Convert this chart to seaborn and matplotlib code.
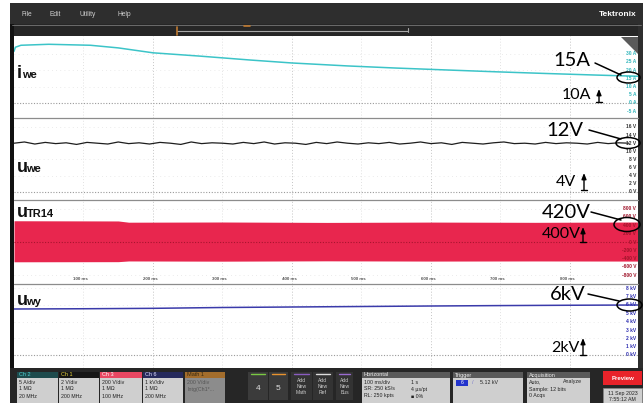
import matplotlib
matplotlib.use("Agg")
import matplotlib.pyplot as plt
import matplotlib.transforms as mtrans
import seaborn as sns
from matplotlib.patches import Rectangle, Ellipse, Polygon

# ---- waveform values ----
iwe_ms = [0, 2, 10, 50, 110, 150, 200, 267, 340, 400, 480, 550, 625, 695, 765, 840, 898]
iwe_A = [31.5, 34.0, 35.2, 35.8, 35.2, 33.6, 30.6, 28.6, 26.2, 24.4, 22.6, 21.3, 20.1, 19.0, 18.0, 17.0, 16.3]

uwe_ms = [0, 15, 30, 45, 60, 75, 90, 105, 120, 135,
          150, 165, 180, 195, 210, 225, 240, 255, 270, 285,
          300, 315, 330, 345, 360, 375, 390, 405, 420, 435,
          450, 465, 480, 495, 510, 525, 540, 555, 570, 585,
          600, 615, 630, 645, 660, 675, 690, 705, 720, 735,
          750, 765, 780, 795, 810, 825, 840, 855, 870, 885]
uwe_V = [12.0, 12.3, 11.8, 12.2, 11.9, 12.1, 11.7, 12.2, 12.0, 11.8,
         12.3, 11.9, 12.1, 11.8, 12.2, 12.0, 11.7, 12.3, 11.9, 12.1,
         12.0, 11.8, 12.2, 11.9, 12.3, 11.8, 12.1, 12.0, 11.7, 12.2,
         11.9, 12.3, 12.0, 11.8, 12.1, 11.9, 12.2, 11.8, 12.0, 12.3,
         11.9, 12.1, 11.7, 12.2, 12.0, 11.8, 12.1, 12.3, 11.9, 12.0,
         11.8, 12.2, 11.9, 12.1, 12.0, 11.8, 12.2, 11.9, 12.1, 12.0]

band_ms = [0, 150, 165, 300, 450, 600, 750, 898]
band_hi = [510, 505, 475, 480, 470, 478, 472, 480]
band_lo = [-475, -472, -455, -460, -452, -458, -455, -458]

uwy_ms = [0, 100, 200, 300, 400, 500, 600, 700, 800, 898]
uwy_kV = [5.52, 5.55, 5.60, 5.70, 5.76, 5.82, 5.88, 5.93, 5.97, 6.0]

time_labels = [100, 200, 300, 400, 500, 600, 700, 800]
iwe_scale = [30, 25, 20, 15, 10, 5, 0, -5]
uwe_scale = [16, 14, 12, 10, 8, 6, 4, 2, 0]
utr_scale = [800, 600, 400, 200, 0, -200, -400, -600, -800]
uwy_scale = [8, 7, 6, 5, 4, 3, 2, 1, 0]

W, H = 643, 403

sns.set_style("white")
plt.rcParams["font.family"] = ["Liberation Sans", "DejaVu Sans"]

fig = plt.figure(figsize=(W / 100, H / 100), dpi=100)


def panel(y0, y1, ylo, yhi):
    ax = fig.add_axes([14 / W, 1 - y1 / H, (638 - 14) / W, (y1 - y0) / H])
    ax.set_xlim(0, 898)
    ax.set_ylim(ylo, yhi)
    ax.set_xticks([])
    ax.set_yticks([])
    for s in ax.spines.values():
        s.set_visible(False)
    for t in range(100, 900, 100):
        c = "#c4c4c4" if t % 200 == 0 else "#e2e2e2"
        ax.axvline(t, color=c, lw=0.7, ls=(0, (1, 2)), zorder=0)
    return ax


def scale(ax, vals, unit, color):
    tr = mtrans.blended_transform_factory(ax.transAxes, ax.transData)
    for v in vals:
        ax.text(0.997, v, f"{v} {unit}", transform=tr, ha="right", va="center",
                fontsize=3.5, color=color, fontweight="bold")


# panel 1 : iwe
ax1 = panel(36, 118, -9.15, 40.85)
for v in [30, 20, 10]:
    ax1.axhline(v, color="#e4e4e4", lw=0.6, ls=(0, (1, 4)), zorder=0)
ax1.axhline(0, color="#9a9a9a", lw=0.8, ls=(0, (1, 1.5)), zorder=0)
sns.lineplot(x=iwe_ms, y=iwe_A, ax=ax1, color="#3cc4c8", lw=1.1)
scale(ax1, iwe_scale, "A", "#2fb5bb")

# panel 2 : uwe
ax2 = panel(118, 200, -1.97, 18.2)
for v in [16, 8, 4]:
    ax2.axhline(v, color="#e4e4e4", lw=0.6, ls=(0, (1, 4)), zorder=0)
ax2.axhline(0, color="#9a9a9a", lw=0.8, ls=(0, (1, 1.5)), zorder=0)
sns.lineplot(x=uwe_ms, y=uwe_V, ax=ax2, color="#1e1e1e", lw=0.9)
scale(ax2, uwe_scale, "V", "#333333")

# panel 3 : uTR14
ax3 = panel(200, 284, -1008, 1008)
for v in [800, -800]:
    ax3.axhline(v, color="#e4e4e4", lw=0.6, ls=(0, (1, 4)), zorder=0)
ax3.fill_between(band_ms, band_lo, band_hi, color="#e8264e", lw=0, zorder=1)
ax3.axhline(0, color="#a8142e", lw=0.8, ls=(0, (1, 1.5)), zorder=2)
for t in time_labels:
    ax3.text(t - 4, -885, f"{t} ms", ha="center", va="center", fontsize=3.2,
             color="#555555", fontweight="bold")
scale(ax3, utr_scale, "V", "#a0142a")

# panel 4 : uwy
ax4 = panel(284, 368, -1.56, 8.52)
for v in [8, 6, 4, 2]:
    ax4.axhline(v, color="#e4e4e4", lw=0.6, ls=(0, (1, 4)), zorder=0)
ax4.axhline(0, color="#9a9a9a", lw=0.8, ls=(0, (1, 1.5)), zorder=0)
sns.lineplot(x=uwy_ms, y=uwy_kV, ax=ax4, color="#3a3aaa", lw=1.1)
scale(ax4, uwy_scale, "kV", "#2a2ab0")

for ax in [ax1, ax2, ax3, ax4]:
    ax.set(xlabel="", ylabel="")

# ---- overlay in pixel coordinates for the instrument frame ----
ov = fig.add_axes([0, 0, 1, 1], zorder=10)
ov.set_xlim(0, W)
ov.set_ylim(H, 0)
ov.set_axis_off()
ov.patch.set_alpha(0)


def box(x0, y0, x1, y1, color, **kw):
    ov.add_patch(Rectangle((x0, y0), x1 - x0, y1 - y0, facecolor=color,
                           edgecolor=kw.pop("ec", "none"), lw=kw.pop("lw", 0), **kw))


def txt(x, y, s, size=4, color="#222222", **kw):
    ov.text(x, y, s, fontsize=size, color=color, va=kw.pop("va", "center"), **kw)


# menu bar and overview strip
box(10, 3, 643, 24, "#2e2e2e")
box(10, 24, 643, 36, "#262626")
ov.plot([12, 641], [24.5, 24.5], color="#777777", lw=0.6)
for x, s in [(22, "File"), (50, "Edit"), (80, "Utility"), (117, "Help")]:
    txt(x, 14, s, 4.8, "#cfcfcf")
txt(636, 14, "Tektronix", 6, "white", ha="right", fontweight="bold")
ov.plot([177, 408], [31, 31], color="#a8a8a8", lw=0.8)
ov.plot([408, 408], [28, 32], color="#a8a8a8", lw=0.8)
ov.plot([177, 177], [27, 35], color="#c07a30", lw=1.2)
ov.plot([244, 250], [26, 26], color="#c07a30", lw=1.2)

# side borders
box(10, 24, 14, 403, "#111111")
box(638, 24, 643, 368, "#2e2e2e")

# panel separators
for y in [118, 200, 284]:
    ov.plot([14, 638], [y, y], color="#8c8c8c", lw=0.9)

# corner tab in panel 1
ov.add_patch(Polygon([(621, 37), (638, 37), (638, 54)], closed=True,
                     facecolor="#5a5a5a", edgecolor="none"))

# trace names
for y, big, sub, sx in [(78, "i", "we", 22), (172, "u", "we", 26.5),
                        (217, "u", "TR14", 26.5), (305, "u", "wy", 26.5)]:
    txt(17, y, big, 13, "#111111", va="baseline", fontweight="bold")
    txt(sx, y, sub, 8, "#111111", va="baseline", fontweight="bold")

# annotations on the right
ann = ["Lato", "DejaVu Sans"]
for s, cx, cy in [("15A", 572, 60), ("12V", 565, 130), ("420V", 566, 212), ("6kV", 568, 295)]:
    ov.text(cx, cy, s, fontsize=14.5, ha="center", va="center", color="black", family=ann)
for s, cx, cy in [("10A", 576, 95), ("4V", 566, 182), ("400V", 561, 234), ("2kV", 565, 348)]:
    ov.text(cx, cy, s, fontsize=11.5, ha="center", va="center", color="black", family=ann)
for x0, y0, x1, y1 in [(595, 63, 621, 75), (589, 130, 621, 139), (591, 212, 621, 220), (588, 294, 619, 301)]:
    ov.plot([x0, x1], [y0, y1], color="black", lw=1.1)
for cx, cy, w, h in [(628.5, 77.5, 23, 11), (628, 143, 24, 11), (627, 224.5, 26, 14), (629.5, 305, 25, 12)]:
    ov.add_patch(Ellipse((cx, cy), w, h, facecolor="none", edgecolor="black", lw=1.1))
for x, yt, yb in [(599, 89, 102), (584, 173, 190), (583, 227, 242), (583, 338, 355)]:
    ov.annotate("", xy=(x, yt), xytext=(x, yb),
                arrowprops=dict(arrowstyle="-|>,head_length=0.35,head_width=0.14",
                                color="black", lw=1.0, shrinkA=0, shrinkB=0))
    ov.plot([x - 3, x + 3], [yb, yb], color="black", lw=1.0)

# bottom badge bar
box(10, 368, 643, 403, "#262626")
badges = [
    (17, 58, "Ch 2", "#1e4b4d", "#4fd0d0", "#cfcfcf", ["5 A/div", "1 MΩ", "20 MHz"]),
    (59, 99, "Ch 1", "#161616", "#e6d23a", "#cfcfcf", ["2 V/div", "1 MΩ", "200 MHz"]),
    (100, 142, "Ch 3", "#e84762", "white", "#cfcfcf", ["200 V/div", "1 MΩ", "100 MHz"]),
    (143, 183, "Ch 6", "#262a5c", "#e0e0ff", "#cfcfcf", ["1 kV/div", "1 MΩ", "200 MHz"]),
    (185, 225, "Math 1", "#a36d2c", "#3a2a10", "#8c8c8c", ["200 V/div", "Intg(Ch1*...", ""]),
]
for x0, x1, head, hc, htc, bc, lines in badges:
    box(x0, 372, x1, 378, hc)
    box(x0, 378, x1, 403, bc)
    txt(x0 + 2, 375, head, 4, htc)
    for i, s in enumerate(lines):
        txt(x0 + 2, 382 + i * 7, s, 3.8, "#555555" if bc == "#8c8c8c" else "#222222")

for x0, x1, s, top in [(248, 268, "4", "#7ac943"), (269, 288, "5", "#e8922e")]:
    box(x0, 372, x1, 400, "#3b3b3b")
    ov.plot([x0 + 3, x1 - 3], [373.5, 373.5], color=top, lw=1.0)
    txt((x0 + x1) / 2, 388, s, 6, "#e0e0e0", ha="center")
for x0, x1, s, top in [(291, 312, "Math", "#8a5cc0"), (313, 333, "Ref", "#dddddd"), (336, 353, "Bus", "#9a6bd0")]:
    box(x0, 372, x1, 400, "#333333")
    ov.plot([x0 + 3, x1 - 3], [373.5, 373.5], color=top, lw=1.0)
    for i, w in enumerate(["Add", "New", s]):
        txt((x0 + x1) / 2, 380 + i * 6.5, w, 3.6, "#cccccc", ha="center")

for x0, x1, head in [(362, 450, "Horizontal"), (453, 523, "Trigger"), (527, 590, "Acquisition")]:
    box(x0, 372, x1, 378, "#5a5a5a")
    box(x0, 378, x1, 403, "#cfcfcf")
    txt(x0 + 2, 375, head, 4, "#eeeeee")
for i, (a, b) in enumerate([("100 ms/div", "1 s"), ("SR: 250 kS/s", "4 µs/pt"), ("RL: 250 kpts", "■ 0%")]):
    txt(364, 382 + i * 7, a, 3.8)
    txt(411, 382 + i * 7, b, 3.8)
box(456, 380, 468, 385.5, "#2233cc")
txt(462, 382.7, "6", 3.6, "white", ha="center")
txt(472, 382.5, "/", 4, "#7777cc")
txt(480, 382.5, "5.12 kV", 3.8)
for i, (a, b) in enumerate([("Auto,", "Analyze"), ("Sample: 12 bits", ""), ("0 Acqs", "")]):
    txt(529, 382 + i * 7, a, 3.8)
    txt(563, 382 + i * 7, b, 3.8)

box(603, 371, 642, 385, "#e8232a")
txt(622.5, 378, "Preview", 4.3, "white", ha="center", fontweight="bold")
box(603, 388, 642, 403, "#cfcfcf", ec="#888888", lw=0.5)
txt(622.5, 393, "11 Sep 2023", 3.8, ha="center")
txt(622.5, 399.5, "7:55:12 AM", 3.8, ha="center")

fig.savefig("out.png", dpi=100, facecolor="white")
